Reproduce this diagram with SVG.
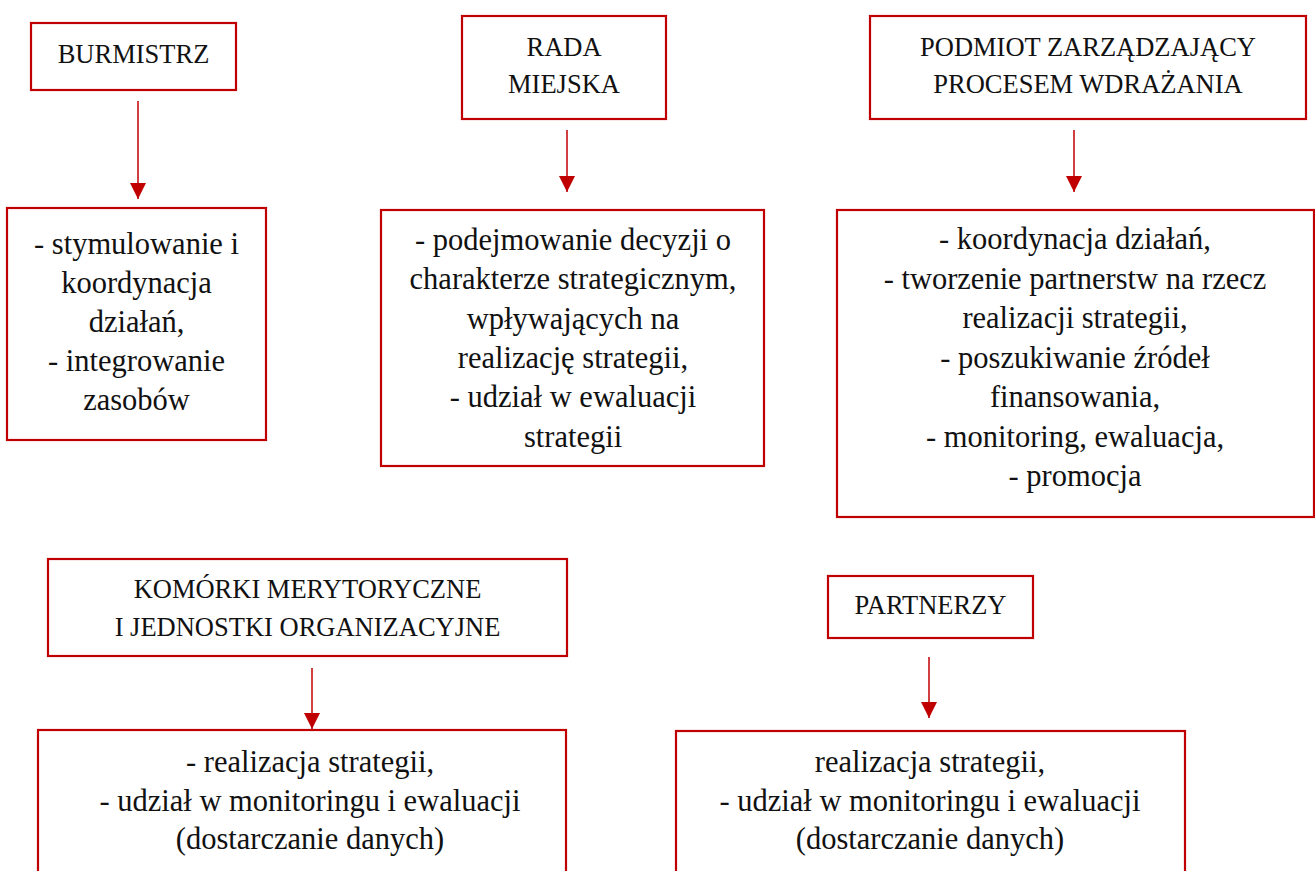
<svg xmlns="http://www.w3.org/2000/svg" width="1315" height="871" viewBox="0 0 1315 871">
<defs>
<style>
.box{fill:#fff;stroke:#C00000;stroke-width:2.2}
.t{font-family:"Liberation Serif","Times New Roman",serif;font-size:30.5px;fill:#111;text-anchor:middle}
.h{font-size:26.5px}
.c{stroke:#C00000;stroke-width:1.5;fill:none}
</style>
<marker id="ah" viewBox="0 0 16 16" refX="16" refY="8" markerWidth="16" markerHeight="16" markerUnits="userSpaceOnUse" orient="auto">
<path d="M0,0 L16,8 L0,16 Z" fill="#C00000"/>
</marker>
</defs>
<rect width="1315" height="871" fill="#fff"/>
<g id="connectors">
<line class="c" x1="138" y1="101" x2="138" y2="199" marker-end="url(#ah)"/>
<line class="c" x1="567" y1="130" x2="567" y2="192" marker-end="url(#ah)"/>
<line class="c" x1="1074" y1="130" x2="1074" y2="192" marker-end="url(#ah)"/>
<line class="c" x1="312" y1="668" x2="312" y2="729" marker-end="url(#ah)"/>
<line class="c" x1="929" y1="657" x2="929" y2="718" marker-end="url(#ah)"/>
</g>
<g id="burmistrz">
<rect class="box" x="31" y="23" width="205" height="67"/>
<text class="t h" x="133.5" y="63">BURMISTRZ</text>
</g>
<g id="burmistrz-zadania">
<rect class="box" x="7" y="208" width="259" height="232"/>
<text class="t" x="136.5" y="254">- stymulowanie i</text>
<text class="t" x="136.5" y="293">koordynacja</text>
<text class="t" x="136.5" y="332">działań,</text>
<text class="t" x="136.5" y="371">- integrowanie</text>
<text class="t" x="136.5" y="410">zasobów</text>
</g>
<g id="rada">
<rect class="box" x="462" y="16" width="204" height="103"/>
<text class="t h" x="564" y="56">RADA</text>
<text class="t h" x="564" y="92.7">MIEJSKA</text>
</g>
<g id="rada-zadania">
<rect class="box" x="381" y="210" width="383" height="256"/>
<text class="t" x="573" y="250">- podejmowanie decyzji o</text>
<text class="t" x="573" y="289.3">charakterze strategicznym,</text>
<text class="t" x="573" y="328.6">wpływających na</text>
<text class="t" x="573" y="367.9">realizację strategii,</text>
<text class="t" x="573" y="407.2">- udział w ewaluacji</text>
<text class="t" x="573" y="446.5">strategii</text>
</g>
<g id="podmiot">
<rect class="box" x="870" y="16" width="436" height="103"/>
<text class="t h" x="1088" y="56">PODMIOT ZARZĄDZAJĄCY</text>
<text class="t h" x="1088" y="92.7">PROCESEM WDRAŻANIA</text>
</g>
<g id="podmiot-zadania">
<rect class="box" x="837" y="210" width="477" height="307"/>
<text class="t" x="1075" y="249">- koordynacja działań,</text>
<text class="t" x="1075" y="288.5">- tworzenie partnerstw na rzecz</text>
<text class="t" x="1075" y="328">realizacji strategii,</text>
<text class="t" x="1075" y="367.5">- poszukiwanie źródeł</text>
<text class="t" x="1075" y="407">finansowania,</text>
<text class="t" x="1075" y="446.5">- monitoring, ewaluacja,</text>
<text class="t" x="1075" y="486">- promocja</text>
</g>
<g id="komorki">
<rect class="box" x="48" y="559" width="519" height="97"/>
<text class="t h" x="307.5" y="598">KOMÓRKI MERYTORYCZNE</text>
<text class="t h" x="307.5" y="636">I JEDNOSTKI ORGANIZACYJNE</text>
</g>
<g id="komorki-zadania">
<rect class="box" x="38" y="730" width="528" height="160"/>
<text class="t" x="310" y="772">- realizacja strategii,</text>
<text class="t" x="310" y="810.7">- udział w monitoringu i ewaluacji</text>
<text class="t" x="310" y="849">(dostarczanie danych)</text>
</g>
<g id="partnerzy">
<rect class="box" x="828" y="576" width="205" height="62"/>
<text class="t h" x="930.5" y="614">PARTNERZY</text>
</g>
<g id="partnerzy-zadania">
<rect class="box" x="676" y="731" width="509" height="160"/>
<text class="t" x="930" y="772">realizacja strategii,</text>
<text class="t" x="930" y="810.7">- udział w monitoringu i ewaluacji</text>
<text class="t" x="930" y="849">(dostarczanie danych)</text>
</g>
</svg>
